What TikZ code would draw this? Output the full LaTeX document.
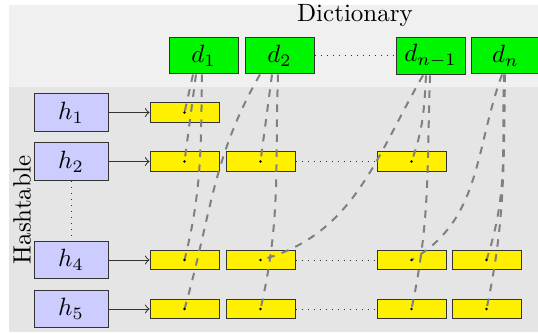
\documentclass[tikz,border=0pt]{standalone}
\usetikzlibrary{calc}
\definecolor{bgtop}{gray}{0.94}
\definecolor{bgbot}{gray}{0.90}
\definecolor{hblue}{RGB}{204,204,255}
\definecolor{dgreen}{RGB}{0,245,0}
\definecolor{yel}{RGB}{255,240,0}
\begin{document}
\begin{tikzpicture}[x=0.40pt,y=0.40pt,
  hbox/.style={draw=black!80, fill=hblue, minimum width=29.6pt, minimum height=14.0pt},
  dbox/.style={draw=black!80, fill=dgreen, minimum width=27.6pt, minimum height=14.4pt, inner sep=2.9pt},
  ybox/.style={draw=black!80, fill=yel, minimum width=27.6pt, minimum height=7.8pt, inner sep=0pt},
  link/.style={dashed, thick, gray},
  ptr/.style={->, black!80},
  gap/.style={dotted, black!80}]
\useasboundingbox (0,0) rectangle (538,333);
\clip (0,0) rectangle (538,333);
\fill[bgtop] (8.5,245.5) rectangle (545,327.5);
\fill[bgbot] (8.5,1.5) rectangle (545,245.5);
\node (dict) at (355,317) {Dictionary};
\node[rotate=90] (htab) at (22,123) {Hashtable};
% hash keys
\node[hbox] (h1) at (71,220.5) {$h_1$};
\node[hbox] (h2) at (71,171.5) {$h_2$};
\node[hbox] (h4) at (71,73) {$h_4$};
\node[hbox] (h5) at (71,24) {$h_5$};
% dictionary entries
\node[dbox] (d1) at (203.5,277) {$d_1$};
\node[dbox] (d2) at (279.5,277) {$d_2$};
\node[dbox] (dn1) at (430.5,277) {$d_{n-1}$};
\node[dbox] (dn) at (505.5,277) {$d_n$};
% buckets
\node[ybox] (b11) at (184.5,220.5) {};
\node[ybox] (b21) at (184.5,171.5) {};
\node[ybox] (b22) at (260.5,171.5) {};
\node[ybox] (b23) at (411.5,171.5) {};
\node[ybox] (b41) at (184.5,73) {};
\node[ybox] (b42) at (260.5,73) {};
\node[ybox] (b43) at (411.5,73) {};
\node[ybox] (b44) at (486.5,73) {};
\node[ybox] (b51) at (184.5,24) {};
\node[ybox] (b52) at (260.5,24) {};
\node[ybox] (b53) at (411.5,24) {};
\node[ybox] (b54) at (486.5,24) {};
% pointers
\draw[ptr] (h1) -- (b11);
\draw[ptr] (h2) -- (b21);
\draw[ptr] (h4) -- (b41);
\draw[ptr] (h5) -- (b51);
% dotted gaps
\draw[gap] (h2) -- (h4);
\draw[gap] (d2) -- (dn1);
\draw[gap] (b22) -- (b23);
\draw[gap] (b42) -- (b43);
\draw[gap] (b52) -- (b53);
% links
\draw[link] ($(d1.south)+(-10.5,0)$) -- (b11.center);
\draw[link] ($(d1.south)+(-7.5,0)$) -- (b21.center);
\draw[link] ($(d1.south)+(-1.5,0)$) to[out=-91,in=76] (b41.center);
\draw[link] ($(d2.south)+(-19.5,0)$) to[out=-120,in=74] (b51.center);
\draw[link] ($(d2.south)+(-7.5,0)$) -- (b22.center);
\draw[link] ($(d2.south)+(-1.5,0)$) to[out=-92,in=77] (b52.center);
\draw[link] ($(dn1.south)+(-7.5,0)$) to[out=-120,in=15] (b42.center);
\draw[link] ($(dn1.south)+(-4.5,0)$) to[out=-93,in=70] (b23.center);
\draw[link] ($(dn1.south)+(-0.5,0)$) to[out=-92,in=78] (b53.center);
\draw[link] ($(dn.south)+(-3.5,0)$) to[out=-110,in=30] (b43.center);
\draw[link] ($(dn.south)+(-1.5,0)$) to[out=-92,in=72] (b44.center);
\draw[link] ($(dn.south)+(-0.5,0)$) to[out=-91,in=78] (b54.center);
% centre dots
\foreach \b in {b11,b21,b22,b23,b41,b42,b43,b44,b51,b52,b53,b54}
  \fill (\b.center) circle (0.55pt);
\end{tikzpicture}
\end{document}
